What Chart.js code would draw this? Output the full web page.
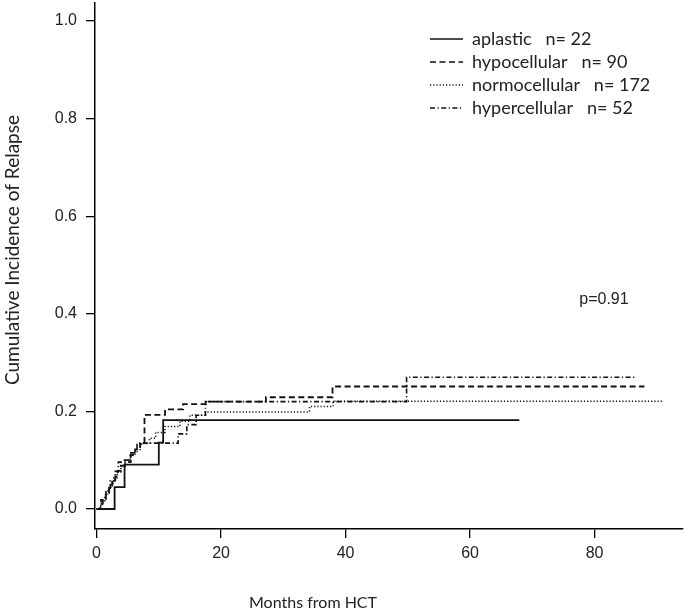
<!DOCTYPE html>
<html>
<head>
<meta charset="utf-8">
<script src="https://cdn.jsdelivr.net/npm/chart.js@4.4.1/dist/chart.umd.min.js"></script>
<style>
  html, body { margin: 0; padding: 0; background: #fff; }
</style>
</head>
<body>
<canvas id="myChart" width="685" height="615"></canvas>
<script>
// months from HCT where each curve steps up, and the cumulative incidence after the step
const aplasticMonths = [0, 2.9, 4.5, 10.0, 10.7, 67.9];
const aplasticCI     = [0, 0.045, 0.091, 0.136, 0.182, 0.182];

const hypoMonths = [0, 0.6, 1.0, 1.5, 2.0, 2.5, 3.0, 3.4, 3.9, 4.5, 5.5, 6.2, 7.0, 7.7, 11.0, 13.9, 18.0, 27.2, 37.9, 88.0];
const hypoCI     = [0, 0.011, 0.022, 0.033, 0.044, 0.056, 0.067, 0.078, 0.089, 0.1, 0.111, 0.122, 0.133, 0.193, 0.204, 0.215, 0.22, 0.229, 0.251, 0.251];

const normoMonths = [0, 0.5, 0.9, 1.3, 1.8, 2.3, 2.8, 3.3, 3.9, 4.6, 5.4, 6.2, 7.0, 8.5, 9.5, 11.0, 13.4, 15.0, 17.4, 34.2, 38.0, 91.0];
const normoCI     = [0, 0.006, 0.017, 0.029, 0.041, 0.052, 0.064, 0.076, 0.087, 0.099, 0.11, 0.122, 0.134, 0.145, 0.157, 0.169, 0.18, 0.192, 0.199, 0.21, 0.221, 0.221];

const hyperMonths = [0, 0.7, 1.5, 2.2, 3.0, 3.5, 5.5, 6.5, 13.1, 14.5, 16.0, 17.5, 49.8, 86.5];
const hyperCI     = [0, 0.019, 0.038, 0.058, 0.077, 0.096, 0.115, 0.135, 0.154, 0.173, 0.192, 0.22, 0.27, 0.27];

const groupLabels = ['aplastic   n= 22', 'hypocellular   n= 90', 'normocellular   n= 172', 'hypercellular   n= 52'];
const xTicks = [0, 20, 40, 60, 80];
const yTicks = [0, 0.2, 0.4, 0.6, 0.8, 1.0];
const xTitle = 'Months from HCT';
const yTitle = 'Cumulative Incidence of Relapse';
const pText = 'p=0.91';
const pAt = [81.5, 0.43];

function toPoints(m, v) {
  return m.map((x, i) => ({ x: x, y: v[i] }));
}

function curve(label, m, v, dash, width) {
  return {
    label: label,
    data: toPoints(m, v),
    borderColor: '#111',
    backgroundColor: '#111',
    borderWidth: width,
    borderDash: dash,
    stepped: true,
    fill: false,
    pointRadius: 0,
  };
}

// move the legend to the upper right corner of the plot
const legendMover = {
  id: 'legendMover',
  beforeDraw(chart) {
    const lg = chart.legend;
    const w = lg.width, h = lg.height;
    lg.left = 425; lg.top = 25;
    lg.right = lg.left + w; lg.bottom = lg.top + h + 40;
  }
};

// axis titles and p value
const texts = {
  id: 'texts',
  afterDraw(chart) {
    const c = chart.ctx;
    c.save();
    c.fillStyle = '#222';
    c.textAlign = 'center';
    c.textBaseline = 'middle';
    c.font = '16px Lato';
    c.fillText(xTitle, 313, 603);
    c.save();
    c.font = '19px Lato';
    c.translate(13, 250);
    c.rotate(-Math.PI / 2);
    c.fillText(yTitle, 0, 0);
    c.restore();
    c.font = '16px "Liberation Sans"';
    c.fillText(pText, chart.scales.x.getPixelForValue(pAt[0]), chart.scales.y.getPixelForValue(pAt[1]));
    c.restore();
  }
};

const ctx = document.getElementById('myChart').getContext('2d');
const myChart = new Chart(ctx, {
  type: 'line',
  data: {
    datasets: [
      curve(groupLabels[0], aplasticMonths, aplasticCI, [], 1.8),
      curve(groupLabels[1], hypoMonths, hypoCI, [6, 3.5], 1.8),
      curve(groupLabels[2], normoMonths, normoCI, [1.2, 2], 1.5),
      curve(groupLabels[3], hyperMonths, hyperCI, [5, 2.5, 1.2, 2.5], 1.6),
    ],
  },
  options: {
    responsive: false,
    animation: false,
    layout: { padding: { top: 3, right: 2, left: 0, bottom: 0 } },
    plugins: {
      legend: {
        position: 'chartArea',
        align: 'start',
        labels: {
          usePointStyle: true,
          pointStyle: 'line',
          pointStyleWidth: 33,
          padding: 5,
          color: '#222',
          font: { family: 'Lato', size: 18 },
          generateLabels(chart) {
            const items = Chart.defaults.plugins.legend.labels.generateLabels(chart);
            items.forEach((it, i) => {
              const ds = chart.data.datasets[i];
              it.lineDash = ds.borderDash;
              it.lineWidth = 1.4;
              it.strokeStyle = ds.borderColor;
            });
            return items;
          },
        },
      },
      tooltip: { enabled: false },
    },
    scales: {
      x: {
        type: 'linear',
        min: -0.25,
        max: 94.2,
        afterFit(s) { s.height = 86; s.paddingLeft = 0; s.paddingRight = 0; },
        afterBuildTicks(s) { s.ticks = xTicks.map(v => ({ value: v })); },
        grid: { drawOnChartArea: false, drawTicks: true, tickLength: 9, color: '#000', lineWidth: 1.3 },
        border: { color: '#000', width: 1.5 },
        ticks: {
          padding: 6,
          color: '#222',
          maxRotation: 0,
          font: { family: 'Liberation Sans', size: 16 },
          callback: v => String(v),
        },
      },
      y: {
        type: 'linear',
        min: -0.041,
        max: 1.037,
        afterFit(s) { s.width = 95; s.paddingTop = 0; s.paddingBottom = 0; },
        afterBuildTicks(s) { s.ticks = yTicks.map(v => ({ value: v })); },
        grid: { drawOnChartArea: false, drawTicks: true, tickLength: 9, color: '#000', lineWidth: 1.3 },
        border: { color: '#000', width: 1.5 },
        ticks: {
          padding: 9,
          color: '#222',
          font: { family: 'Liberation Sans', size: 16 },
          callback: v => v.toFixed(1),
        },
      },
    },
  },
  plugins: [legendMover, texts],
});
</script>
</body>
</html>
